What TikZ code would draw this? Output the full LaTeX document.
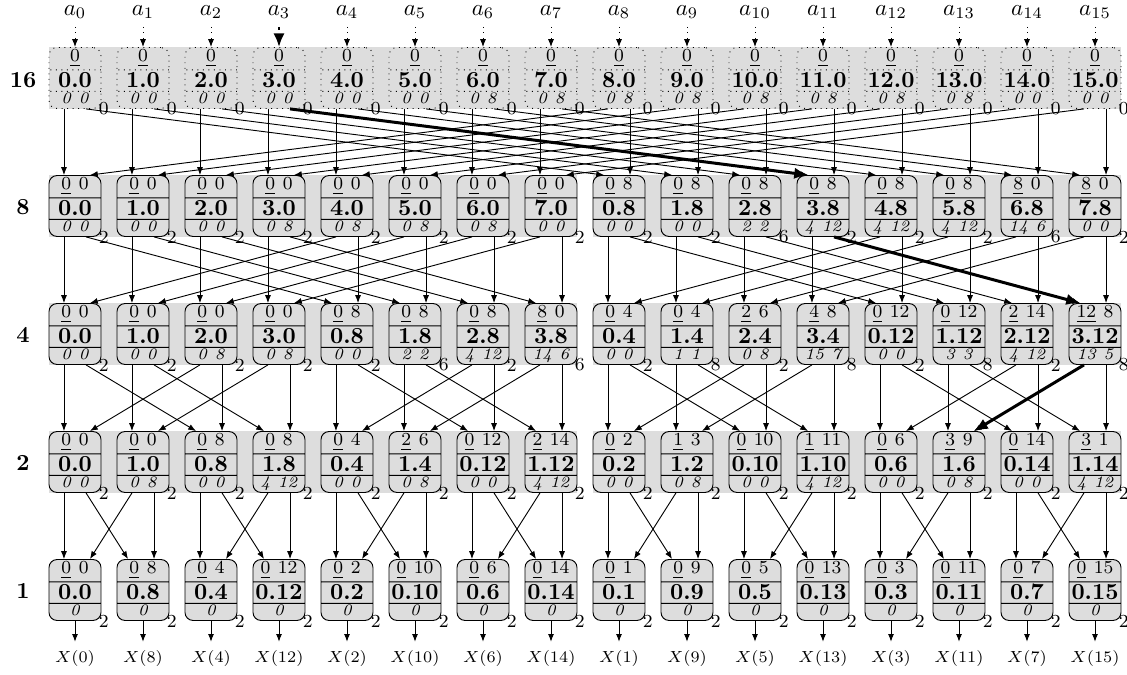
\documentclass[tikz,border=0pt]{standalone}
\usetikzlibrary{arrows.meta,positioning,shapes.multipart,backgrounds}
\definecolor{cellgray}{HTML}{DDDDDD}

% struts for the three parts of a cell
\newcommand{\tops}{\rule[-3.3pt]{0pt}{9.3pt}}
\newcommand{\mids}{\rule[-1.5pt]{0pt}{9.0pt}}
\newcommand{\bots}{\rule[-1.9pt]{0pt}{7.0pt}}

\begin{document}
\begin{tikzpicture}[
  x=0.4348pt, y=-0.4348pt,
  cell/.style={rectangle split, rectangle split parts=3, draw, fill=cellgray,
               rounded corners=3.5pt, text width=21.4pt, align=center,
               inner xsep=0.6pt, inner ysep=0pt},
  dotcell/.style={cell, dotted},
  cnum/.style={font=\footnotesize, inner sep=0pt},
  rowno/.style={font=\bfseries},
  ar/.style={-{Latex[length=3.4pt,width=2.6pt]}},
  hot/.style={-{Latex[length=6pt,width=5pt]}, line width=1.3pt},
]
\useasboundingbox (0,0) rectangle (1127,675);

% Entradas y primera fila
\foreach \bv [count=\i from 0] in {0 0,0 0,0 0,0 0,0 0,0 0,0 8,0 8,0 8,0 8,0 8,0 8,0 8,0 8,0 0,0 0} {
  \node (a\i) at ({75+68*\i},12) {$a_{\i}$};
  \node[dotcell] (r16c\i) at ({75+68*\i},78)
    {\tops\footnotesize\underline{0}\nodepart{two}\mids\bfseries\i.0\nodepart{three}\bots\scriptsize\itshape\bv};
  \node[cnum] (s16c\i) at ([xshift=1pt]r16c\i.south east) {0};
}
\node[rowno] (l16) at (23,80) {16};

% Fila 8
\foreach \ta/\tb/\mv/\bv/\sv [count=\i from 0] in {
  0/0/0.0/0 0/2, 0/0/1.0/0 0/2, 0/0/2.0/0 0/2, 0/0/3.0/0 8/2,
  0/0/4.0/0 8/2, 0/0/5.0/0 8/2, 0/0/6.0/0 8/2, 0/0/7.0/0 0/2,
  0/8/0.8/0 0/2, 0/8/1.8/0 0/2, 0/8/2.8/2 2/6, 0/8/3.8/4 12/2,
  0/8/4.8/4 12/2, 0/8/5.8/4 12/2, 8/0/6.8/14 6/6, 8/0/7.8/0 0/2} {
  \node[cell] (r8c\i) at ({75+68*\i},206)
    {\tops\footnotesize\underline{\ta}~\tb\nodepart{two}\mids\bfseries\mv\nodepart{three}\bots\scriptsize\itshape\bv};
  \node[cnum] (s8c\i) at ([xshift=1pt]r8c\i.south east) {\sv};
}
\node[rowno] (l8) at (23,207) {8};

% Fila 4
\foreach \ta/\tb/\mv/\bv/\sv [count=\i from 0] in {
  0/0/0.0/0 0/2, 0/0/1.0/0 0/2, 0/0/2.0/0 8/2, 0/0/3.0/0 8/2,
  0/8/0.8/0 0/2, 0/8/1.8/2 2/6, 0/8/2.8/4 12/2, 8/0/3.8/14 6/6,
  0/4/0.4/0 0/2, 0/4/1.4/1 1/8, 2/6/2.4/0 8/2, 4/8/3.4/15 7/8,
  0/12/0.12/0 0/2, 0/12/1.12/3 3/8, 2/14/2.12/4 12/2, 12/8/3.12/13 5/8} {
  \node[cell] (r4c\i) at ({75+68*\i},334)
    {\tops\footnotesize\underline{\ta}~\tb\nodepart{two}\mids\bfseries\mv\nodepart{three}\bots\scriptsize\itshape\bv};
  \node[cnum] (s4c\i) at ([xshift=1pt]r4c\i.south east) {\sv};
}
\node[rowno] (l4) at (23,335) {4};

% Fila 2
\foreach \ta/\tb/\mv/\bv [count=\i from 0] in {
  0/0/0.0/0 0, 0/0/1.0/0 8, 0/8/0.8/0 0, 0/8/1.8/4 12,
  0/4/0.4/0 0, 2/6/1.4/0 8, 0/12/0.12/0 0, 2/14/1.12/4 12,
  0/2/0.2/0 0, 1/3/1.2/0 8, 0/10/0.10/0 0, 1/11/1.10/4 12,
  0/6/0.6/0 0, 3/9/1.6/0 8, 0/14/0.14/0 0, 3/1/1.14/4 12} {
  \node[cell] (r2c\i) at ({75+68*\i},462)
    {\tops\footnotesize\underline{\ta}~\tb\nodepart{two}\mids\bfseries\mv\nodepart{three}\bots\scriptsize\itshape\bv};
  \node[cnum] (s2c\i) at ([xshift=1pt]r2c\i.south east) {2};
}
\node[rowno] (l2) at (23,463) {2};

% Fila 1 y salidas
\foreach \tb [count=\i from 0] in {0,8,4,12,2,10,6,14,1,9,5,13,3,11,7,15} {
  \node[cell] (r1c\i) at ({75+68*\i},590)
    {\tops\footnotesize\underline{0}~\tb\nodepart{two}\mids\bfseries0.\tb\nodepart{three}\bots\scriptsize\itshape0};
  \node[cnum] (s1c\i) at ([xshift=1pt]r1c\i.south east) {2};
  \node[font=\scriptsize] (x\i) at ({75+68*\i},658) {$X(\tb)$};
  \draw[ar] (r1c\i.south) -- (x\i.north);
}
\node[rowno] (l1) at (23,591) {1};

% Bandas grises
\begin{scope}[on background layer]
  \fill[cellgray] (r16c0.north west) rectangle (r16c15.south east);
  \foreach \r in {8,4,2} {
    \fill[cellgray] (r\r c0.north west) rectangle (r\r c7.south east);
    \fill[cellgray] (r\r c8.north west) rectangle (r\r c15.south east);
  }
\end{scope}

% Mariposas
\foreach \i in {0,1,2,4,5,6,7,8,9,10,11,12,13,14,15}
  \draw[ar, dotted] (a\i.south) -- (r16c\i.north);
\draw[hot, dotted] (a3.south) -- (r16c3.north);

\foreach \ra/\rb/\st in {16/8/8, 8/4/4, 4/2/2, 2/1/1} {
  \foreach \col in {0,...,15} {
    \pgfmathtruncatemacro{\md}{mod(\col,2*\st)}
    \ifnum\md<\st
      \pgfmathtruncatemacro{\prt}{\col+\st}
      \draw[ar] ([xshift=-4.8pt]r\ra c\col.south) -- ([xshift=-4.8pt]r\rb c\col.north);
      \draw[ar] ([xshift=4.8pt]r\ra c\col.south) -- ([xshift=-6.5pt]r\rb c\prt.north);
    \else
      \pgfmathtruncatemacro{\prt}{\col-\st}
      \draw[ar] ([xshift=4.8pt]r\ra c\col.south) -- ([xshift=4.8pt]r\rb c\col.north);
      \draw[ar] ([xshift=-4.8pt]r\ra c\col.south) -- ([xshift=6.5pt]r\rb c\prt.north);
    \fi
  }
}

% Camino resaltado
\draw[hot] ([xshift=4.8pt]r16c3.south) -- ([xshift=-6.5pt]r8c11.north);
\draw[hot] ([xshift=4.8pt]r8c11.south) -- ([xshift=-6.5pt]r4c15.north);
\draw[hot] ([xshift=-4.8pt]r4c15.south) -- ([xshift=6.5pt]r2c13.north);
\end{tikzpicture}
\end{document}
